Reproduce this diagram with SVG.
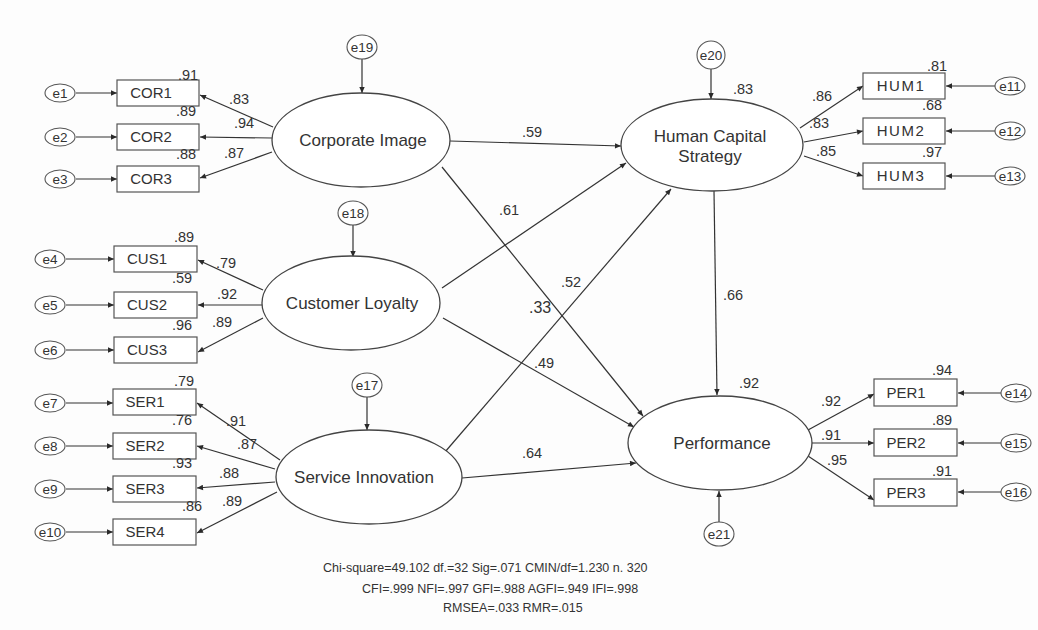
<svg xmlns="http://www.w3.org/2000/svg" width="1038" height="630" viewBox="0 0 1038 630">
<defs>
<marker id="ah" viewBox="0 0 10 10" refX="10" refY="5" markerWidth="8" markerHeight="6" markerUnits="userSpaceOnUse" orient="auto"><path d="M0,0.5 L10,5 L0,9.5 z" fill="#2a2a2a"/></marker>
<style>
text{font-family:"Liberation Sans",Arial,sans-serif;fill:#333}
.box{fill:#fff;stroke:#555;stroke-width:1.2}
.lat{fill:#fff;stroke:#444;stroke-width:1.3}
.err{fill:#fff;stroke:#555;stroke-width:1.1}
.c line{stroke:#333;stroke-width:1.2;fill:none;marker-end:url(#ah)}
.bt{font-size:15px;text-anchor:middle}
.et{font-size:13.5px;text-anchor:middle}
.lt{font-size:17px;text-anchor:middle}
.n{font-size:14.5px}
.fit{font-size:12.5px}
</style>
</defs>
<rect width="1038" height="630" fill="#fdfdfd"/>

<g id="connectors" class="c">
<!-- residuals to indicators -->
<line x1="76" y1="93" x2="117" y2="93"/>
<line x1="76" y1="137" x2="117" y2="137"/>
<line x1="76" y1="179" x2="117" y2="179"/>
<line x1="66" y1="259" x2="114" y2="259"/>
<line x1="66" y1="305" x2="114" y2="305"/>
<line x1="66" y1="350" x2="114" y2="350"/>
<line x1="66" y1="403" x2="113" y2="403"/>
<line x1="66" y1="446" x2="113" y2="446"/>
<line x1="66" y1="489" x2="113" y2="489"/>
<line x1="66" y1="532" x2="113" y2="532"/>
<line x1="995" y1="86" x2="946" y2="86"/>
<line x1="995" y1="131" x2="946" y2="131"/>
<line x1="995" y1="176" x2="946" y2="176"/>
<line x1="1001" y1="393" x2="958" y2="393"/>
<line x1="1001" y1="443" x2="958" y2="443"/>
<line x1="1001" y1="492" x2="958" y2="492"/>
<!-- structural residuals -->
<line x1="362" y1="59" x2="362" y2="93"/>
<line x1="353" y1="225" x2="353" y2="257"/>
<line x1="367" y1="397" x2="367" y2="430"/>
<line x1="711" y1="69" x2="711" y2="99"/>
<line x1="719" y1="522" x2="719" y2="491"/>
<!-- loadings -->
<line x1="273" y1="127" x2="200" y2="95"/>
<line x1="272" y1="138" x2="200" y2="137"/>
<line x1="272" y1="152" x2="200" y2="178"/>
<line x1="263" y1="290" x2="198" y2="260"/>
<line x1="262" y1="305" x2="198" y2="305"/>
<line x1="263" y1="318" x2="198" y2="352"/>
<line x1="280" y1="460" x2="197" y2="403"/>
<line x1="275" y1="469" x2="197" y2="446"/>
<line x1="275" y1="482" x2="197" y2="488"/>
<line x1="277" y1="492" x2="197" y2="533"/>
<line x1="800" y1="128" x2="863" y2="86"/>
<line x1="804" y1="142" x2="863" y2="131"/>
<line x1="804" y1="156" x2="863" y2="176"/>
<line x1="808" y1="430" x2="874" y2="394"/>
<line x1="811" y1="443" x2="874" y2="443"/>
<line x1="808" y1="456" x2="874" y2="500"/>
<!-- structural paths -->
<line x1="450" y1="141" x2="621" y2="146"/>
<line x1="442" y1="167" x2="643" y2="416"/>
<line x1="442" y1="288" x2="626" y2="163"/>
<line x1="443" y1="318" x2="634" y2="427"/>
<line x1="445" y1="452" x2="671" y2="189"/>
<line x1="462" y1="478" x2="636" y2="463"/>
<line x1="714" y1="191" x2="717" y2="395"/>
</g>

<!-- residual error nodes -->
<g id="e1"><ellipse class="err" cx="60" cy="93" rx="15" ry="9"/><text class="et" x="60" y="98">e1</text></g>
<g id="e2"><ellipse class="err" cx="60" cy="137" rx="15" ry="9"/><text class="et" x="60" y="142">e2</text></g>
<g id="e3"><ellipse class="err" cx="60" cy="179" rx="15" ry="9"/><text class="et" x="60" y="184">e3</text></g>
<g id="e4"><ellipse class="err" cx="50" cy="259" rx="15" ry="9"/><text class="et" x="50" y="264">e4</text></g>
<g id="e5"><ellipse class="err" cx="50" cy="305" rx="15" ry="9"/><text class="et" x="50" y="310">e5</text></g>
<g id="e6"><ellipse class="err" cx="50" cy="350" rx="15" ry="9"/><text class="et" x="50" y="355">e6</text></g>
<g id="e7"><ellipse class="err" cx="50" cy="403" rx="15" ry="9"/><text class="et" x="50" y="408">e7</text></g>
<g id="e8"><ellipse class="err" cx="50" cy="446" rx="15" ry="9"/><text class="et" x="50" y="451">e8</text></g>
<g id="e9"><ellipse class="err" cx="50" cy="489" rx="15" ry="9"/><text class="et" x="50" y="494">e9</text></g>
<g id="e10"><ellipse class="err" cx="50" cy="532" rx="15" ry="9"/><text class="et" x="50" y="537">e10</text></g>
<g id="e11"><ellipse class="err" cx="1010" cy="86" rx="15" ry="9"/><text class="et" x="1010" y="91">e11</text></g>
<g id="e12"><ellipse class="err" cx="1010" cy="131" rx="15" ry="9"/><text class="et" x="1010" y="136">e12</text></g>
<g id="e13"><ellipse class="err" cx="1010" cy="176" rx="15" ry="9"/><text class="et" x="1010" y="181">e13</text></g>
<g id="e14"><ellipse class="err" cx="1016" cy="393" rx="15" ry="9"/><text class="et" x="1016" y="398">e14</text></g>
<g id="e15"><ellipse class="err" cx="1016" cy="443" rx="15" ry="9"/><text class="et" x="1016" y="448">e15</text></g>
<g id="e16"><ellipse class="err" cx="1016" cy="492" rx="15" ry="9"/><text class="et" x="1016" y="497">e16</text></g>
<g id="e17"><ellipse class="err" cx="367" cy="385" rx="15" ry="12"/><text class="et" x="367" y="390">e17</text></g>
<g id="e18"><ellipse class="err" cx="353" cy="213" rx="15" ry="12"/><text class="et" x="353" y="218">e18</text></g>
<g id="e19"><ellipse class="err" cx="362" cy="47" rx="15" ry="12"/><text class="et" x="362" y="52">e19</text></g>
<g id="e20"><circle class="err" cx="711" cy="55" r="14"/><text class="et" x="711" y="60">e20</text></g>
<g id="e21"><ellipse class="err" cx="719" cy="534" rx="15" ry="12"/><text class="et" x="719" y="539">e21</text></g>

<!-- indicators -->
<g id="COR1"><rect class="box" x="117" y="80" width="82" height="26"/><text class="bt" x="151" y="98">COR1</text></g>
<g id="COR2"><rect class="box" x="117" y="124" width="82" height="26"/><text class="bt" x="151" y="142">COR2</text></g>
<g id="COR3"><rect class="box" x="117" y="166" width="82" height="26"/><text class="bt" x="151" y="184">COR3</text></g>
<g id="CUS1"><rect class="box" x="114" y="246" width="83" height="26"/><text class="bt" x="147" y="264">CUS1</text></g>
<g id="CUS2"><rect class="box" x="114" y="292" width="83" height="26"/><text class="bt" x="147" y="310">CUS2</text></g>
<g id="CUS3"><rect class="box" x="114" y="337" width="83" height="26"/><text class="bt" x="147" y="355">CUS3</text></g>
<g id="SER1"><rect class="box" x="113" y="389" width="83" height="26"/><text class="bt" x="145" y="407">SER1</text></g>
<g id="SER2"><rect class="box" x="113" y="433" width="83" height="26"/><text class="bt" x="145" y="451">SER2</text></g>
<g id="SER3"><rect class="box" x="113" y="476" width="83" height="26"/><text class="bt" x="145" y="494">SER3</text></g>
<g id="SER4"><rect class="box" x="113" y="519" width="83" height="26"/><text class="bt" x="145" y="537">SER4</text></g>
<g id="HUM1"><rect class="box" x="863" y="73" width="82" height="26"/><text class="bt" x="901" y="91" letter-spacing="1.5">HUM1</text></g>
<g id="HUM2"><rect class="box" x="863" y="118" width="82" height="26"/><text class="bt" x="901" y="136" letter-spacing="1.5">HUM2</text></g>
<g id="HUM3"><rect class="box" x="863" y="163" width="82" height="26"/><text class="bt" x="901" y="181" letter-spacing="1.5">HUM3</text></g>
<g id="PER1"><rect class="box" x="874" y="379" width="83" height="27"/><text class="bt" x="906" y="398">PER1</text></g>
<g id="PER2"><rect class="box" x="874" y="429" width="83" height="27"/><text class="bt" x="906" y="448">PER2</text></g>
<g id="PER3"><rect class="box" x="874" y="479" width="83" height="27"/><text class="bt" x="906" y="498">PER3</text></g>

<!-- latent constructs -->
<g id="CorporateImage"><ellipse class="lat" cx="361" cy="140" rx="89" ry="47"/><text class="lt" x="363" y="146">Corporate Image</text></g>
<g id="CustomerLoyalty"><ellipse class="lat" cx="351" cy="303" rx="89" ry="47"/><text class="lt" x="352" y="309">Customer Loyalty</text></g>
<g id="ServiceInnovation"><ellipse class="lat" cx="369" cy="477" rx="93" ry="47"/><text class="lt" x="364" y="483">Service Innovation</text></g>
<g id="HumanCapitalStrategy"><ellipse class="lat" cx="712" cy="145" rx="91" ry="46"/><text class="lt" x="710" y="142">Human Capital</text><text class="lt" x="710" y="162">Strategy</text></g>
<g id="Performance"><ellipse class="lat" cx="720" cy="443" rx="92" ry="47"/><text class="lt" x="722" y="449">Performance</text></g>

<!-- coefficient labels -->
<g id="labels" class="n">
<text x="178" y="80">.91</text><text x="176" y="116">.89</text><text x="176" y="159">.88</text>
<text x="229" y="104">.83</text><text x="234" y="128">.94</text><text x="224" y="158">.87</text>
<text x="174" y="242">.89</text><text x="172" y="283">.59</text><text x="172" y="330">.96</text>
<text x="216" y="268">.79</text><text x="217" y="299">.92</text><text x="212" y="327">.89</text>
<text x="174" y="386">.79</text><text x="172" y="425">.76</text><text x="172" y="468">.93</text><text x="182" y="511">.86</text>
<text x="226" y="426">.91</text><text x="237" y="449">.87</text><text x="219" y="478">.88</text><text x="222" y="506">.89</text>
<text x="733" y="94">.83</text>
<text x="927" y="71">.81</text><text x="922" y="110">.68</text><text x="922" y="157">.97</text>
<text x="812" y="101">.86</text><text x="809" y="128">.83</text><text x="816" y="156">.85</text>
<text x="739" y="388">.92</text>
<text x="932" y="375">.94</text><text x="932" y="425">.89</text><text x="932" y="476">.91</text>
<text x="821" y="406">.92</text><text x="821" y="440">.91</text><text x="827" y="465">.95</text>
<text x="522" y="137">.59</text><text x="499" y="215">.61</text><text x="561" y="287">.52</text>
<text x="529" y="313" font-size="16">.33</text><text x="534" y="368">.49</text><text x="522" y="458">.64</text>
<text x="723" y="300">.66</text>
</g>

<g id="fit" class="fit">
<text x="323" y="572">Chi-square=49.102 df.=32 Sig=.071 CMIN/df=1.230 n. 320</text>
<text x="362" y="593">CFI=.999 NFI=.997 GFI=.988 AGFI=.949 IFI=.998</text>
<text x="443" y="612">RMSEA=.033 RMR=.015</text>
</g>
</svg>
